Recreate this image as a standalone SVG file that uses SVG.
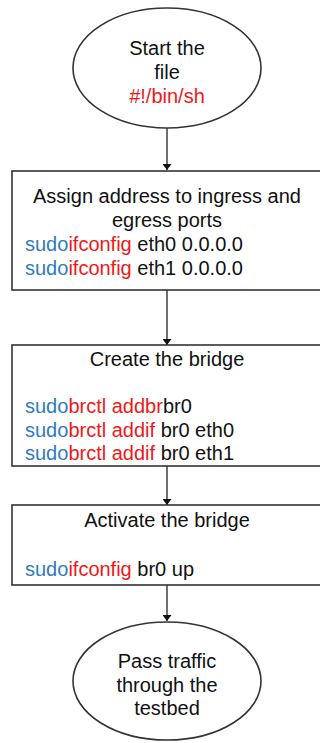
<svg xmlns="http://www.w3.org/2000/svg" width="320" height="743" viewBox="0 0 320 743">
<defs>
<style>
.shape{fill:#fff;stroke:#333;stroke-width:1.6}
.conn{stroke:#222;stroke-width:1.3;fill:none}
text{font-family:"Liberation Sans",Arial,sans-serif;font-size:20px;fill:#111}
.c{text-anchor:middle}
.b{fill:#2e7bc4}
.r{fill:#f01818}
</style>
<marker id="arr" viewBox="0 0 6 9" refX="6" refY="4.5" markerWidth="6" markerHeight="9" markerUnits="userSpaceOnUse" orient="auto">
<path d="M0,0 L6,4.5 L0,9 Z" fill="#111"/>
</marker>
</defs>
<rect width="320" height="743" fill="#fff"/>
<g id="connectors">
<line class="conn" x1="167" y1="128" x2="167" y2="170" marker-end="url(#arr)"/>
<line class="conn" x1="167" y1="290" x2="167" y2="345" marker-end="url(#arr)"/>
<line class="conn" x1="167" y1="466" x2="167" y2="505" marker-end="url(#arr)"/>
<line class="conn" x1="167" y1="585" x2="167" y2="621" marker-end="url(#arr)"/>
</g>
<g id="start">
<ellipse class="shape" cx="167" cy="68" rx="94" ry="60"/>
<text class="c" x="167" y="55">Start the</text>
<text class="c" x="167" y="79">file</text>
<text class="c r" x="167" y="103">#!/bin/sh</text>
</g>
<g id="assign">
<rect class="shape" x="12" y="171" width="330" height="119"/>
<text class="c" x="167" y="203">Assign address to ingress and</text>
<text class="c" x="167" y="227">egress ports</text>
<text x="25" y="251"><tspan class="b">sudo</tspan><tspan class="r">ifconfig</tspan> eth0 0.0.0.0</text>
<text x="25" y="275"><tspan class="b">sudo</tspan><tspan class="r">ifconfig</tspan> eth1 0.0.0.0</text>
</g>
<g id="create">
<rect class="shape" x="12" y="345" width="330" height="121"/>
<text class="c" x="167" y="366">Create the bridge</text>
<text x="25" y="413"><tspan class="b">sudo</tspan><tspan class="r">brctl addbr</tspan>br0</text>
<text x="25" y="437"><tspan class="b">sudo</tspan><tspan class="r">brctl addif</tspan> br0 eth0</text>
<text x="25" y="460"><tspan class="b">sudo</tspan><tspan class="r">brctl addif</tspan> br0 eth1</text>
</g>
<g id="activate">
<rect class="shape" x="12" y="505" width="330" height="80"/>
<text class="c" x="167" y="527">Activate the bridge</text>
<text x="25" y="576"><tspan class="b">sudo</tspan><tspan class="r">ifconfig</tspan> br0 up</text>
</g>
<g id="pass">
<ellipse class="shape" cx="167" cy="681" rx="94" ry="59"/>
<text class="c" x="167" y="668">Pass traffic</text>
<text class="c" x="167" y="692">through the</text>
<text class="c" x="167" y="715">testbed</text>
</g>
</svg>
